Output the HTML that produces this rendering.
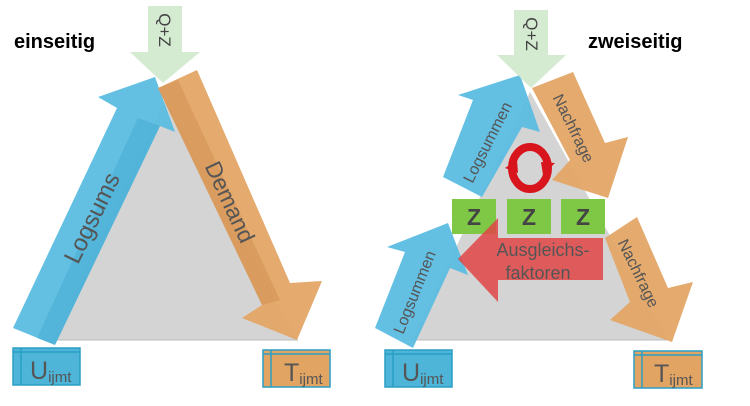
<!DOCTYPE html>
<html><head><meta charset="utf-8"><style>
html,body{margin:0;padding:0;background:#fff;width:750px;height:406px;overflow:hidden}
svg{display:block}
text{font-family:"Liberation Sans",sans-serif}
</style></head><body>
<svg width="750" height="406" viewBox="0 0 750 406" xmlns="http://www.w3.org/2000/svg">
<!-- LEFT PANEL -->
<text x="14" y="48" font-size="20" font-weight="bold" fill="#000">einseitig</text>
<polygon points="52,340 165,100 298,340" fill="#d4d4d4"/>
<line x1="52" y1="340" x2="298" y2="340" stroke="#bbb" stroke-width="1"/>
<polygon points="13,328 117,108 98,97 155,77 175,132 160,126 55,345" fill="#5bbde1" opacity="0.95"/>
<polygon points="37,338 138,118 160,126 55,345" fill="#4aaed4" opacity="0.6"/>
<text transform="translate(92,218) rotate(-64)" text-anchor="middle" font-size="24" fill="#555" dy="8">Logsums</text>
<polygon points="158,88 197,70 290,283 322,281 297,340 242,318 262,305" fill="#e3a566" opacity="0.95"/>
<polygon points="158,88 178,80 280,300 262,305" fill="#cf9050" opacity="0.5"/>
<text transform="translate(230,202) rotate(65)" text-anchor="middle" font-size="23" fill="#555" dy="8">Demand</text>
<polygon points="148,6 182,6 182,52 200,52 163,83 130,52 148,52" fill="#cfe9cc" opacity="0.9"/>
<text transform="translate(165,30) rotate(90)" text-anchor="middle" font-size="17" fill="#444" dy="6">Q+Z</text>
<rect x="13" y="348" width="67" height="37" fill="#4eb5d8" stroke="#2a9ec4" stroke-width="1.5"/>
<line x1="21" y1="348" x2="21" y2="385" stroke="#2a9ec4" stroke-width="1.5"/>
<line x1="13" y1="352" x2="80" y2="352" stroke="#2a9ec4" stroke-width="1.5"/>
<text x="30" y="379" font-size="25" fill="#555">U<tspan font-size="15" dy="3">ijmt</tspan></text>
<rect x="263" y="350" width="67" height="37" fill="#e2a463" stroke="#2a9ec4" stroke-width="1.5"/>
<line x1="271" y1="350" x2="271" y2="387" stroke="#2a9ec4" stroke-width="1.5"/>
<line x1="263" y1="354" x2="330" y2="354" stroke="#2a9ec4" stroke-width="1.5"/>
<text x="284" y="381" font-size="25" fill="#555">T<tspan font-size="15" dy="3">ijmt</tspan></text>

<!-- RIGHT PANEL -->
<text x="588" y="48" font-size="20" font-weight="bold" fill="#000">zweiseitig</text>
<polygon points="412,340 530,92 668,340" fill="#d4d4d4"/>
<line x1="412" y1="340" x2="668" y2="340" stroke="#bbb" stroke-width="1"/>
<polygon points="443,177 473,100 458,95 520,75 540,132 522,127 482,197" fill="#5bbde1" opacity="0.95"/>
<text transform="translate(487,142) rotate(-63)" text-anchor="middle" font-size="16" fill="#555" dy="6">Logsummen</text>
<polygon points="532,88 573,72 605,143 628,137 608,198 552,180 570,160" fill="#e3a566" opacity="0.95"/>
<text transform="translate(574,128) rotate(64)" text-anchor="middle" font-size="16" fill="#555" dy="6">Nachfrage</text>
<polygon points="375,328 405,252 387,247 448,223 468,275 450,268 413,348" fill="#5bbde1" opacity="0.95"/>
<text transform="translate(414,292) rotate(-68)" text-anchor="middle" font-size="16" fill="#555" dy="6">Logsummen</text>
<polygon points="605,238 637,217 668,288 693,282 672,342 610,320 630,302" fill="#e3a566" opacity="0.95"/>
<text transform="translate(639,273) rotate(64)" text-anchor="middle" font-size="16" fill="#555" dy="6">Nachfrage</text>
<polygon points="514,10 548,10 548,55 566,55 531,88 497,55 514,55" fill="#cfe9cc" opacity="0.9"/>
<text transform="translate(532,34) rotate(90)" text-anchor="middle" font-size="17" fill="#444" dy="6">Q+Z</text>
<rect x="452" y="199" width="44" height="35" fill="#7ec845"/>
<rect x="507" y="199" width="44" height="35" fill="#7ec845"/>
<rect x="561" y="199" width="44" height="35" fill="#7ec845"/>
<text x="474" y="225" text-anchor="middle" font-size="23" font-weight="bold" fill="#444">Z</text>
<text x="529" y="225" text-anchor="middle" font-size="23" font-weight="bold" fill="#444">Z</text>
<text x="583" y="225" text-anchor="middle" font-size="23" font-weight="bold" fill="#444">Z</text>
<polygon points="603,238 603,280 498,280 498,302 458,259 498,218 498,238" fill="#e04545" opacity="0.85"/>
<text x="543" y="256" text-anchor="middle" font-size="18" fill="#555">Ausgleichs-</text>
<text x="538" y="279" text-anchor="middle" font-size="18" fill="#555">faktoren</text>
<ellipse cx="530" cy="168" rx="18" ry="21" fill="none" stroke="#d8141c" stroke-width="8"/>
<polygon points="505,168 517,160 518,173" fill="#d8141c"/>
<polygon points="555,163 543,175 541,162" fill="#d8141c"/>
<rect x="385" y="350" width="67" height="37" fill="#4eb5d8" stroke="#2a9ec4" stroke-width="1.5"/>
<line x1="393" y1="350" x2="393" y2="387" stroke="#2a9ec4" stroke-width="1.5"/>
<line x1="385" y1="354" x2="452" y2="354" stroke="#2a9ec4" stroke-width="1.5"/>
<text x="402" y="381" font-size="25" fill="#555">U<tspan font-size="15" dy="3">ijmt</tspan></text>
<rect x="634" y="351" width="68" height="37" fill="#e2a463" stroke="#2a9ec4" stroke-width="1.5"/>
<line x1="642" y1="351" x2="642" y2="388" stroke="#2a9ec4" stroke-width="1.5"/>
<line x1="634" y1="355" x2="702" y2="355" stroke="#2a9ec4" stroke-width="1.5"/>
<text x="654" y="382" font-size="25" fill="#555">T<tspan font-size="15" dy="3">ijmt</tspan></text>
</svg>
</body></html>
